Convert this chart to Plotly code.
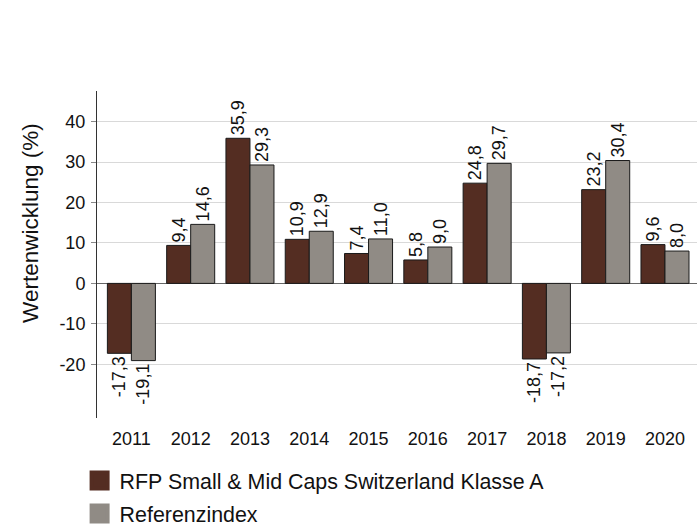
import plotly.graph_objects as go

years = ["2011", "2012", "2013", "2014", "2015", "2016", "2017", "2018", "2019", "2020"]
fund = [-17.3, 9.4, 35.9, 10.9, 7.4, 5.8, 24.8, -18.7, 23.2, 9.6]
index = [-19.1, 14.6, 29.3, 12.9, 11.0, 9.0, 29.7, -17.2, 30.4, 8.0]
fund_name = "RFP Small & Mid Caps Switzerland Klasse A"
index_name = "Referenzindex"
y_ticks = [-20, -10, 0, 10, 20, 30, 40]
y_title = "Wertenwicklung (%)"

FONT = "Liberation Sans, Arial, sans-serif"
C_FUND = "#542d22"
C_INDEX = "#908b85"

fig = go.Figure()
for vals, name, col, grp in [(fund, fund_name, C_FUND, "a"), (index, index_name, C_INDEX, "b")]:
    fig.add_trace(go.Bar(
        x=years, y=vals, name=name, legendgroup=grp, showlegend=False,
        marker=dict(color=col, line=dict(color="#1a1a1a", width=1)),
        texttemplate="%{y:.1f}", textposition="outside", textangle=-90,
        constraintext="none",
        textfont=dict(size=18, color="#111111"), cliponaxis=False,
    ))
# legend swatches
for name, col, grp in [(fund_name, C_FUND, "a"), (index_name, C_INDEX, "b")]:
    fig.add_trace(go.Scatter(
        x=[None], y=[None], mode="markers", name=name, legendgroup=grp,
        marker=dict(symbol="square", size=16, color=col, line=dict(color=col, width=4)),
    ))

fig.update_layout(
    width=700, height=525,
    margin=dict(l=97, r=3, t=91, b=107, autoexpand=False),
    paper_bgcolor="white", plot_bgcolor="white",
    font=dict(family=FONT, size=18, color="#111111"),
    separators=",.",
    barmode="group", bargap=0.19, bargroupgap=0,
    showlegend=True,
    legend=dict(
        orientation="v", x=-0.029, y=-0.129, xanchor="left", yanchor="top",
        font=dict(size=21.4), traceorder="grouped", tracegroupgap=2,
        itemsizing="trace", bgcolor="rgba(0,0,0,0)",
    ),
    annotations=[dict(
        text=y_title, textangle=-90, xref="paper", yref="paper",
        x=-0.112, y=0.596, xanchor="center", yanchor="middle",
        showarrow=False, font=dict(size=22.5, color="#111111"),
    )],
)
fig.update_xaxes(
    type="category", range=[-0.58, 9.54], showline=False, showgrid=False,
    ticks="", ticklabelstandoff=8, tickfont=dict(size=18),
)
fig.update_yaxes(
    range=[-33.3, 47.6], tickvals=y_ticks, ticktext=[str(v) for v in y_ticks],
    showgrid=True, gridcolor="#d9d9d9", gridwidth=1,
    zeroline=True, zerolinecolor="#666666", zerolinewidth=1,
    showline=True, linecolor="#333333", linewidth=1,
    ticks="outside", ticklen=5, tickcolor="#888888",
    tickfont=dict(size=18), ticklabelstandoff=2,
)

fig.write_html("out.html", config={"displayModeBar": False},
               post_script="document.body.style.margin='0';")
